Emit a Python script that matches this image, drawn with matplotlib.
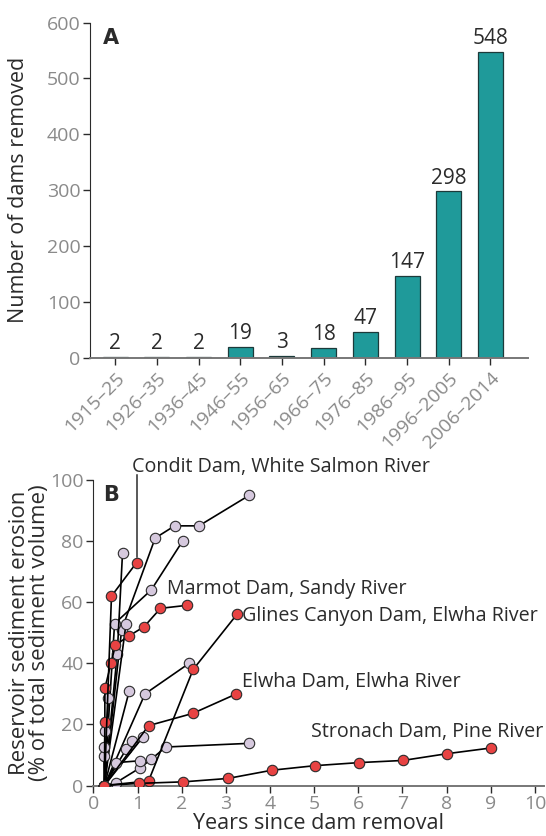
import matplotlib
matplotlib.use("Agg")
import matplotlib.pyplot as plt

plt.rcParams["font.family"] = ["Open Sans", "DejaVu Sans"]

# ── panel A data ──────────────────────────────────────────────────────────────
periods = ["1915–25", "1926–35", "1936–45", "1946–55", "1956–65",
           "1966–75", "1976–85", "1986–95", "1996–2005", "2006–2014"]
removed = [2, 2, 2, 19, 3, 18, 47, 147, 298, 548]

# ── panel B data (years since removal, % eroded) ──────────────────────────────
condit_x = [0.25, 0.41, 0.98]
condit_y = [0, 62, 73]
marmot_x = [0.25, 0.26, 0.26, 0.40, 0.50, 0.81, 1.15, 1.52, 2.13]
marmot_y = [0, 20.7, 31.8, 40, 46, 49, 52, 58, 59]
glines_x = [0.25, 1.25, 2.26, 3.25]
glines_y = [0, 1.5, 38, 56]
elwha_x = [0.25, 1.25, 2.25, 3.24]
elwha_y = [0, 19.6, 23.6, 30]
stronach_x = [0.25, 1.04, 2.04, 3.04, 4.04, 5.02, 6.02, 7.01, 8.0, 9.01]
stronach_y = [0, 0.7, 1.2, 2.3, 5.0, 6.5, 7.5, 8.2, 10.4, 12.3]

# other (unlabelled) reservoirs
other_x = [
    [0.25, 0.64, 1.40, 1.84, 2.39, 3.53],
    [0.25, 0.48, 1.31, 2.02],
    [0.25, 0.54, 0.66],
    [0.25, 0.74],
    [0.25, 0.81],
    [0.25, 1.17, 2.17],
    [0.25, 0.34],
    [0.25, 0.26],
    [0.25, 0.24, 0.24],
    [0.25, 0.74, 0.88],
    [0.25, 1.13],
    [0.25, 0.51, 1.06, 1.31, 1.64, 3.53],
    [0.25, 0.52, 1.06],
]
other_y = [
    [0, 51, 81, 85, 85, 95],
    [0, 53, 64, 80],
    [0, 43, 76],
    [0, 53],
    [0, 30.8],
    [0, 30, 40],
    [0, 28.7],
    [0, 17.8],
    [0, 9.5, 12.5],
    [0, 11.8, 14.6],
    [0, 16],
    [0, 0.9, 5.8, 8.6, 12.6, 13.8],
    [0, 7.5, 8.1],
]

TEAL = "#1f9a9a"
RED = "#e84343"
LAV = "#d6c9de"
GREY = "#8a8a8a"
DARK = "#2b2b2b"

fig = plt.figure(figsize=(5.46, 8.36), dpi=100)

# ── Panel A ──────────────────────────────────────────────────────────────────
axA = fig.add_axes([0.165, 0.572, 0.802, 0.401])
xs = range(len(periods))
axA.bar(xs, removed, width=0.6, color=TEAL, edgecolor="#1c3a3a", linewidth=0.9)
for x, v in zip(xs, removed):
    axA.text(x, v + 5, str(v), ha="center", va="bottom", fontsize=15, color=DARK)
axA.set_xlim(-0.6, 9.9)
axA.set_ylim(0, 600)
axA.set_yticks(range(0, 601, 100))
axA.set_xticks(list(xs))
axA.set_xticklabels(periods, rotation=45, ha="right", rotation_mode="anchor")
axA.tick_params(axis="both", colors=DARK, labelcolor=GREY, labelsize=14, length=5, width=1)
axA.tick_params(axis="x", pad=3)
axA.tick_params(axis="y", pad=2)
axA.spines["top"].set_visible(False)
axA.spines["right"].set_visible(False)
axA.spines["left"].set_color(DARK)
axA.spines["bottom"].set_color("#777777")
axA.spines["bottom"].set_linewidth(1.4)
axA.set_ylabel("Number of dams removed", fontsize=15.5, color=DARK)
axA.yaxis.set_label_coords(-0.139, 0.5)
axA.text(0.03, 0.985, "A", transform=axA.transAxes, fontsize=15, fontweight="bold",
         color=DARK, va="top", family="DejaVu Sans")

# ── Panel B ──────────────────────────────────────────────────────────────────
axB = fig.add_axes([0.171, 0.0604, 0.825, 0.3654])
mk = dict(marker="o", markersize=7.5, markeredgecolor=DARK, markeredgewidth=0.8,
          color="black", linewidth=1.2)
for ox, oy in zip(other_x, other_y):
    axB.plot(ox, oy, markerfacecolor=LAV, zorder=3, **mk)
for rx, ry in [(elwha_x, elwha_y), (glines_x, glines_y), (marmot_x, marmot_y),
               (condit_x, condit_y), (stronach_x, stronach_y)]:
    axB.plot(rx, ry, markerfacecolor=RED, zorder=4, **mk)

axB.set_xlim(0, 10.2)
axB.set_ylim(0, 100)
axB.set_xticks(range(0, 11))
axB.set_yticks(range(0, 101, 20))
axB.tick_params(axis="both", colors=DARK, labelcolor=GREY, labelsize=14, length=5, width=1)
axB.tick_params(axis="y", pad=2)
axB.tick_params(axis="x", pad=2)
axB.spines["top"].set_visible(False)
axB.spines["right"].set_visible(False)
axB.spines["left"].set_color(DARK)
axB.spines["bottom"].set_color("#777777")
axB.spines["bottom"].set_linewidth(1.4)
axB.set_xlabel("Years since dam removal", fontsize=15.5, color=DARK, labelpad=0)
axB.set_ylabel("Reservoir sediment erosion\n(% of total sediment volume)",
               fontsize=16, color=DARK, linespacing=0.95)
axB.yaxis.set_label_coords(-0.096, 0.5)
axB.text(0.022, 0.985, "B", transform=axB.transAxes, fontsize=15, fontweight="bold",
         color=DARK, va="top", family="DejaVu Sans")

# annotations
FS = 14.2
axB.plot([condit_x[-1], condit_x[-1]], [condit_y[-1] + 1.8, 101.5], color=DARK, lw=1.1,
         clip_on=False, zorder=2)
axB.text(0.87, 104.2, "Condit Dam, White Salmon River", fontsize=FS, color=DARK,
         va="center")
axB.text(1.67, 64.3, "Marmot Dam, Sandy River", fontsize=FS, color=DARK, va="center")
axB.text(3.37, 55.5, "Glines Canyon Dam, Elwha River", fontsize=FS, color=DARK, va="center")
axB.text(3.37, 33.9, "Elwha Dam, Elwha River", fontsize=FS, color=DARK, va="center")
axB.text(4.93, 17.5, "Stronach Dam, Pine River", fontsize=FS, color=DARK, va="center")

fig.savefig("out.png", dpi=100)
